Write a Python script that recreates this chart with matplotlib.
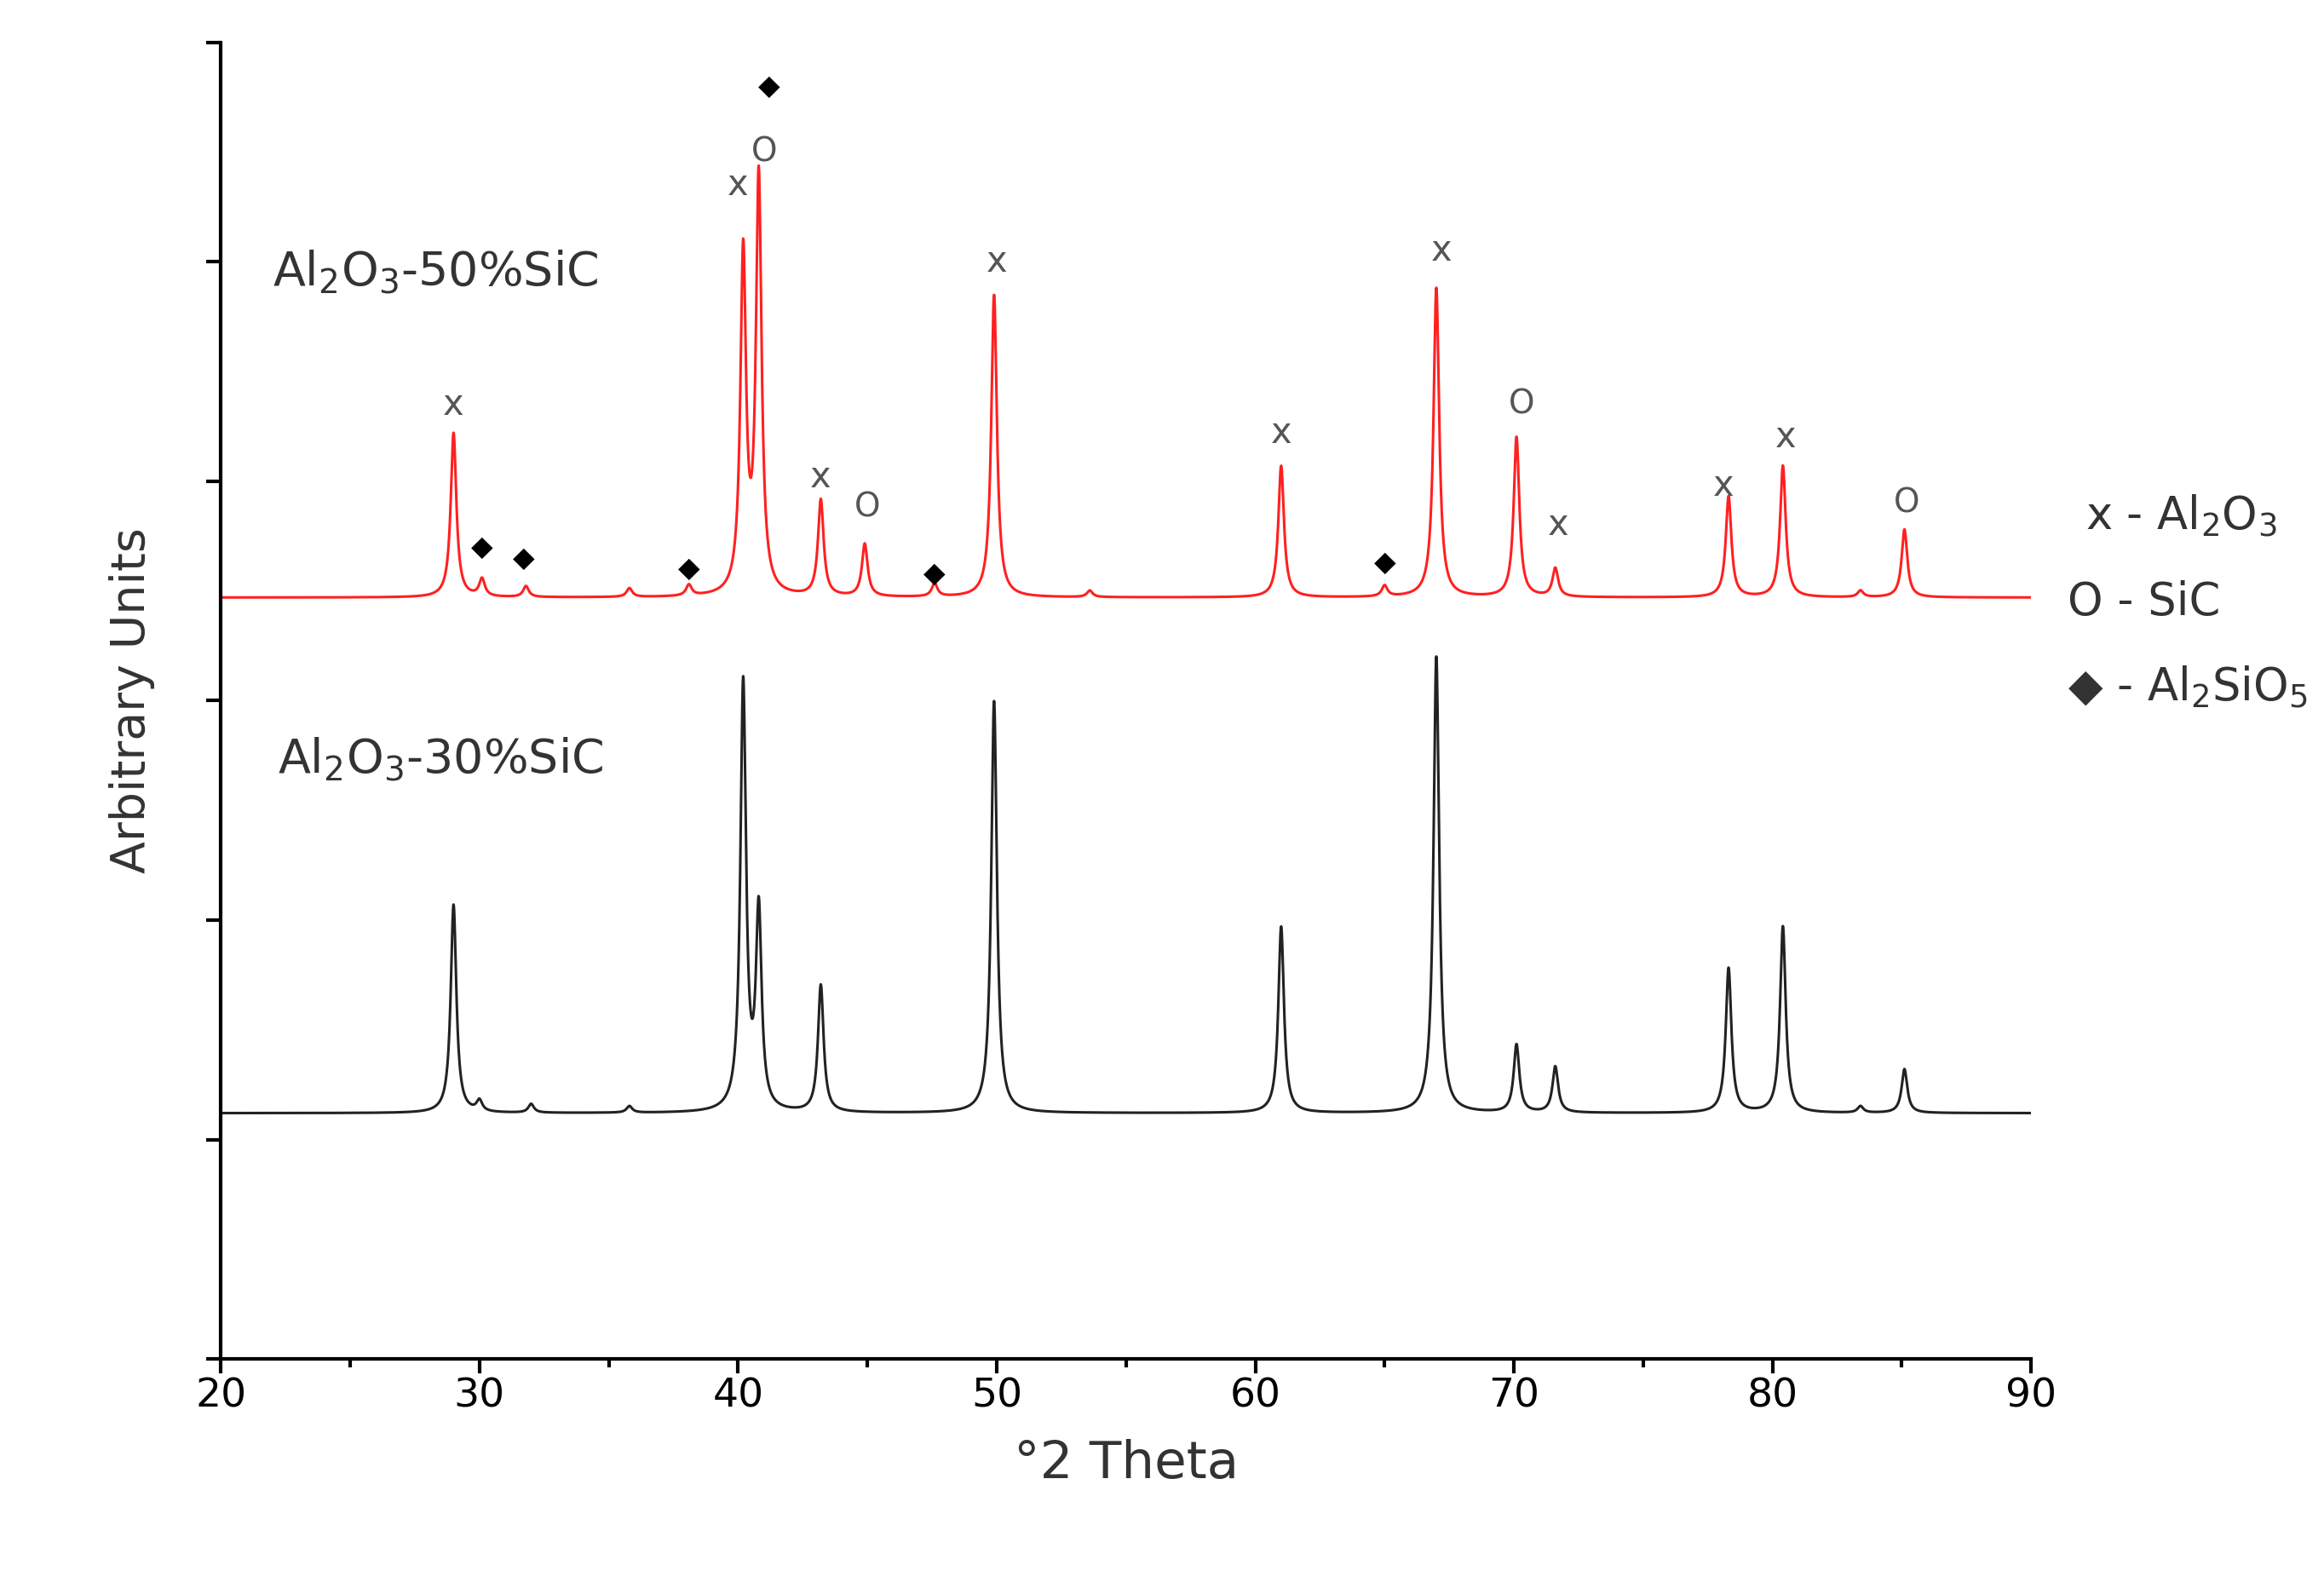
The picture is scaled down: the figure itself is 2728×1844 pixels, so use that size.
import numpy as np
import matplotlib
matplotlib.use("Agg")
import matplotlib.pyplot as plt

# Data
black_base = 1.12
black_pos = [29.0, 30.0, 32.0, 35.8, 40.2, 40.8, 43.2, 49.9, 61.0, 67.0, 70.1, 71.6, 78.3, 80.4, 83.4, 85.1]
black_h   = [0.95, 0.05, 0.04, 0.03, 1.95, 0.9, 0.58, 1.88, 0.85, 2.08, 0.31, 0.21, 0.66, 0.85, 0.03, 0.2]
red_base = 3.47
red_pos = [29.0, 30.1, 31.8, 35.8, 38.1, 40.2, 40.8, 43.2, 44.9, 47.6, 49.9, 53.6, 61.0, 65.0, 67.0, 70.1, 71.6, 78.3, 80.4, 83.4, 85.1]
red_h   = [0.75, 0.08, 0.05, 0.04, 0.05, 1.55, 1.9, 0.44, 0.24, 0.06, 1.38, 0.03, 0.6, 0.05, 1.41, 0.73, 0.13, 0.46, 0.6, 0.03, 0.31]
red_labels = [(29.0, 4.35, 'x'), (30.1, 3.7, 'D'), (31.7, 3.65, 'D'), (38.1, 3.6, 'D'),
              (40.0, 5.35, 'x'), (41.0, 5.5, 'o'), (41.2, 5.8, 'D'), (43.2, 4.02, 'x'),
              (45.0, 3.88, 'o'), (47.6, 3.58, 'D'), (50.0, 5.0, 'x'), (61.0, 4.22, 'x'),
              (65.0, 3.63, 'D'), (67.2, 5.05, 'x'), (70.3, 4.35, 'o'), (71.7, 3.8, 'x'),
              (78.1, 3.98, 'x'), (80.5, 4.2, 'x'), (85.2, 3.9, 'o')]

x = np.linspace(20, 90, 6000)
def curve(base, pos, h, w=0.13):
    y = np.full_like(x, base)
    for p, a in zip(pos, h):
        y += a / (1 + ((x - p) / w) ** 2)
    return y

fig = plt.figure(figsize=(27.28, 18.44), dpi=100)
ax = fig.add_axes([0.095, 0.135, 0.779, 0.838])
ax.plot(x, curve(black_base, black_pos, black_h), color='#222222', lw=2.2)
ax.plot(x, curve(red_base, red_pos, red_h), color='#ff2020', lw=2.2)
for xx, yy, s in red_labels:
    if s == 'D':
        ax.text(xx, yy, '◆', ha='center', va='center', fontsize=24, color='black')
    elif s == 'x':
        ax.text(xx, yy, 'x', ha='center', va='center', fontsize=30, color='#555555')
    else:
        ax.text(xx, yy, 'O', ha='center', va='center', fontsize=28, color='#555555')

ax.text(22, 4.95, r'Al$_2$O$_3$-50%SiC', fontsize=40, color='#333333', va='center')
ax.text(22.2, 2.73, r'Al$_2$O$_3$-30%SiC', fontsize=40, color='#333333', va='center')
ax.text(1.03, 0.63, r'x - Al$_2$O$_3$', transform=ax.transAxes, fontsize=38, color='#333333')
ax.text(1.02, 0.565, r'O - SiC', transform=ax.transAxes, fontsize=38, color='#333333')
ax.text(1.02, 0.50, r'◆ - Al$_2$SiO$_5$', transform=ax.transAxes, fontsize=38, color='#333333')

ax.set_xlim(20, 90)
ax.set_ylim(0, 6)
ax.set_xticks(range(20, 91, 10))
ax.set_xticks(range(20, 91, 5), minor=True)
ax.set_yticks(range(0, 7))
ax.set_yticklabels([])
ax.tick_params(labelsize=34, width=3, length=12, direction='out')
ax.tick_params(which='minor', width=3, length=7)
for s in ['top', 'right']:
    ax.spines[s].set_visible(False)
for s in ['left', 'bottom']:
    ax.spines[s].set_linewidth(3)
ax.set_xlabel('°2 Theta', fontsize=44, color='#333333', labelpad=20)
ax.set_ylabel('Arbitrary Units', fontsize=40, color='#333333', labelpad=40)
fig.savefig('out.png', dpi=100)
